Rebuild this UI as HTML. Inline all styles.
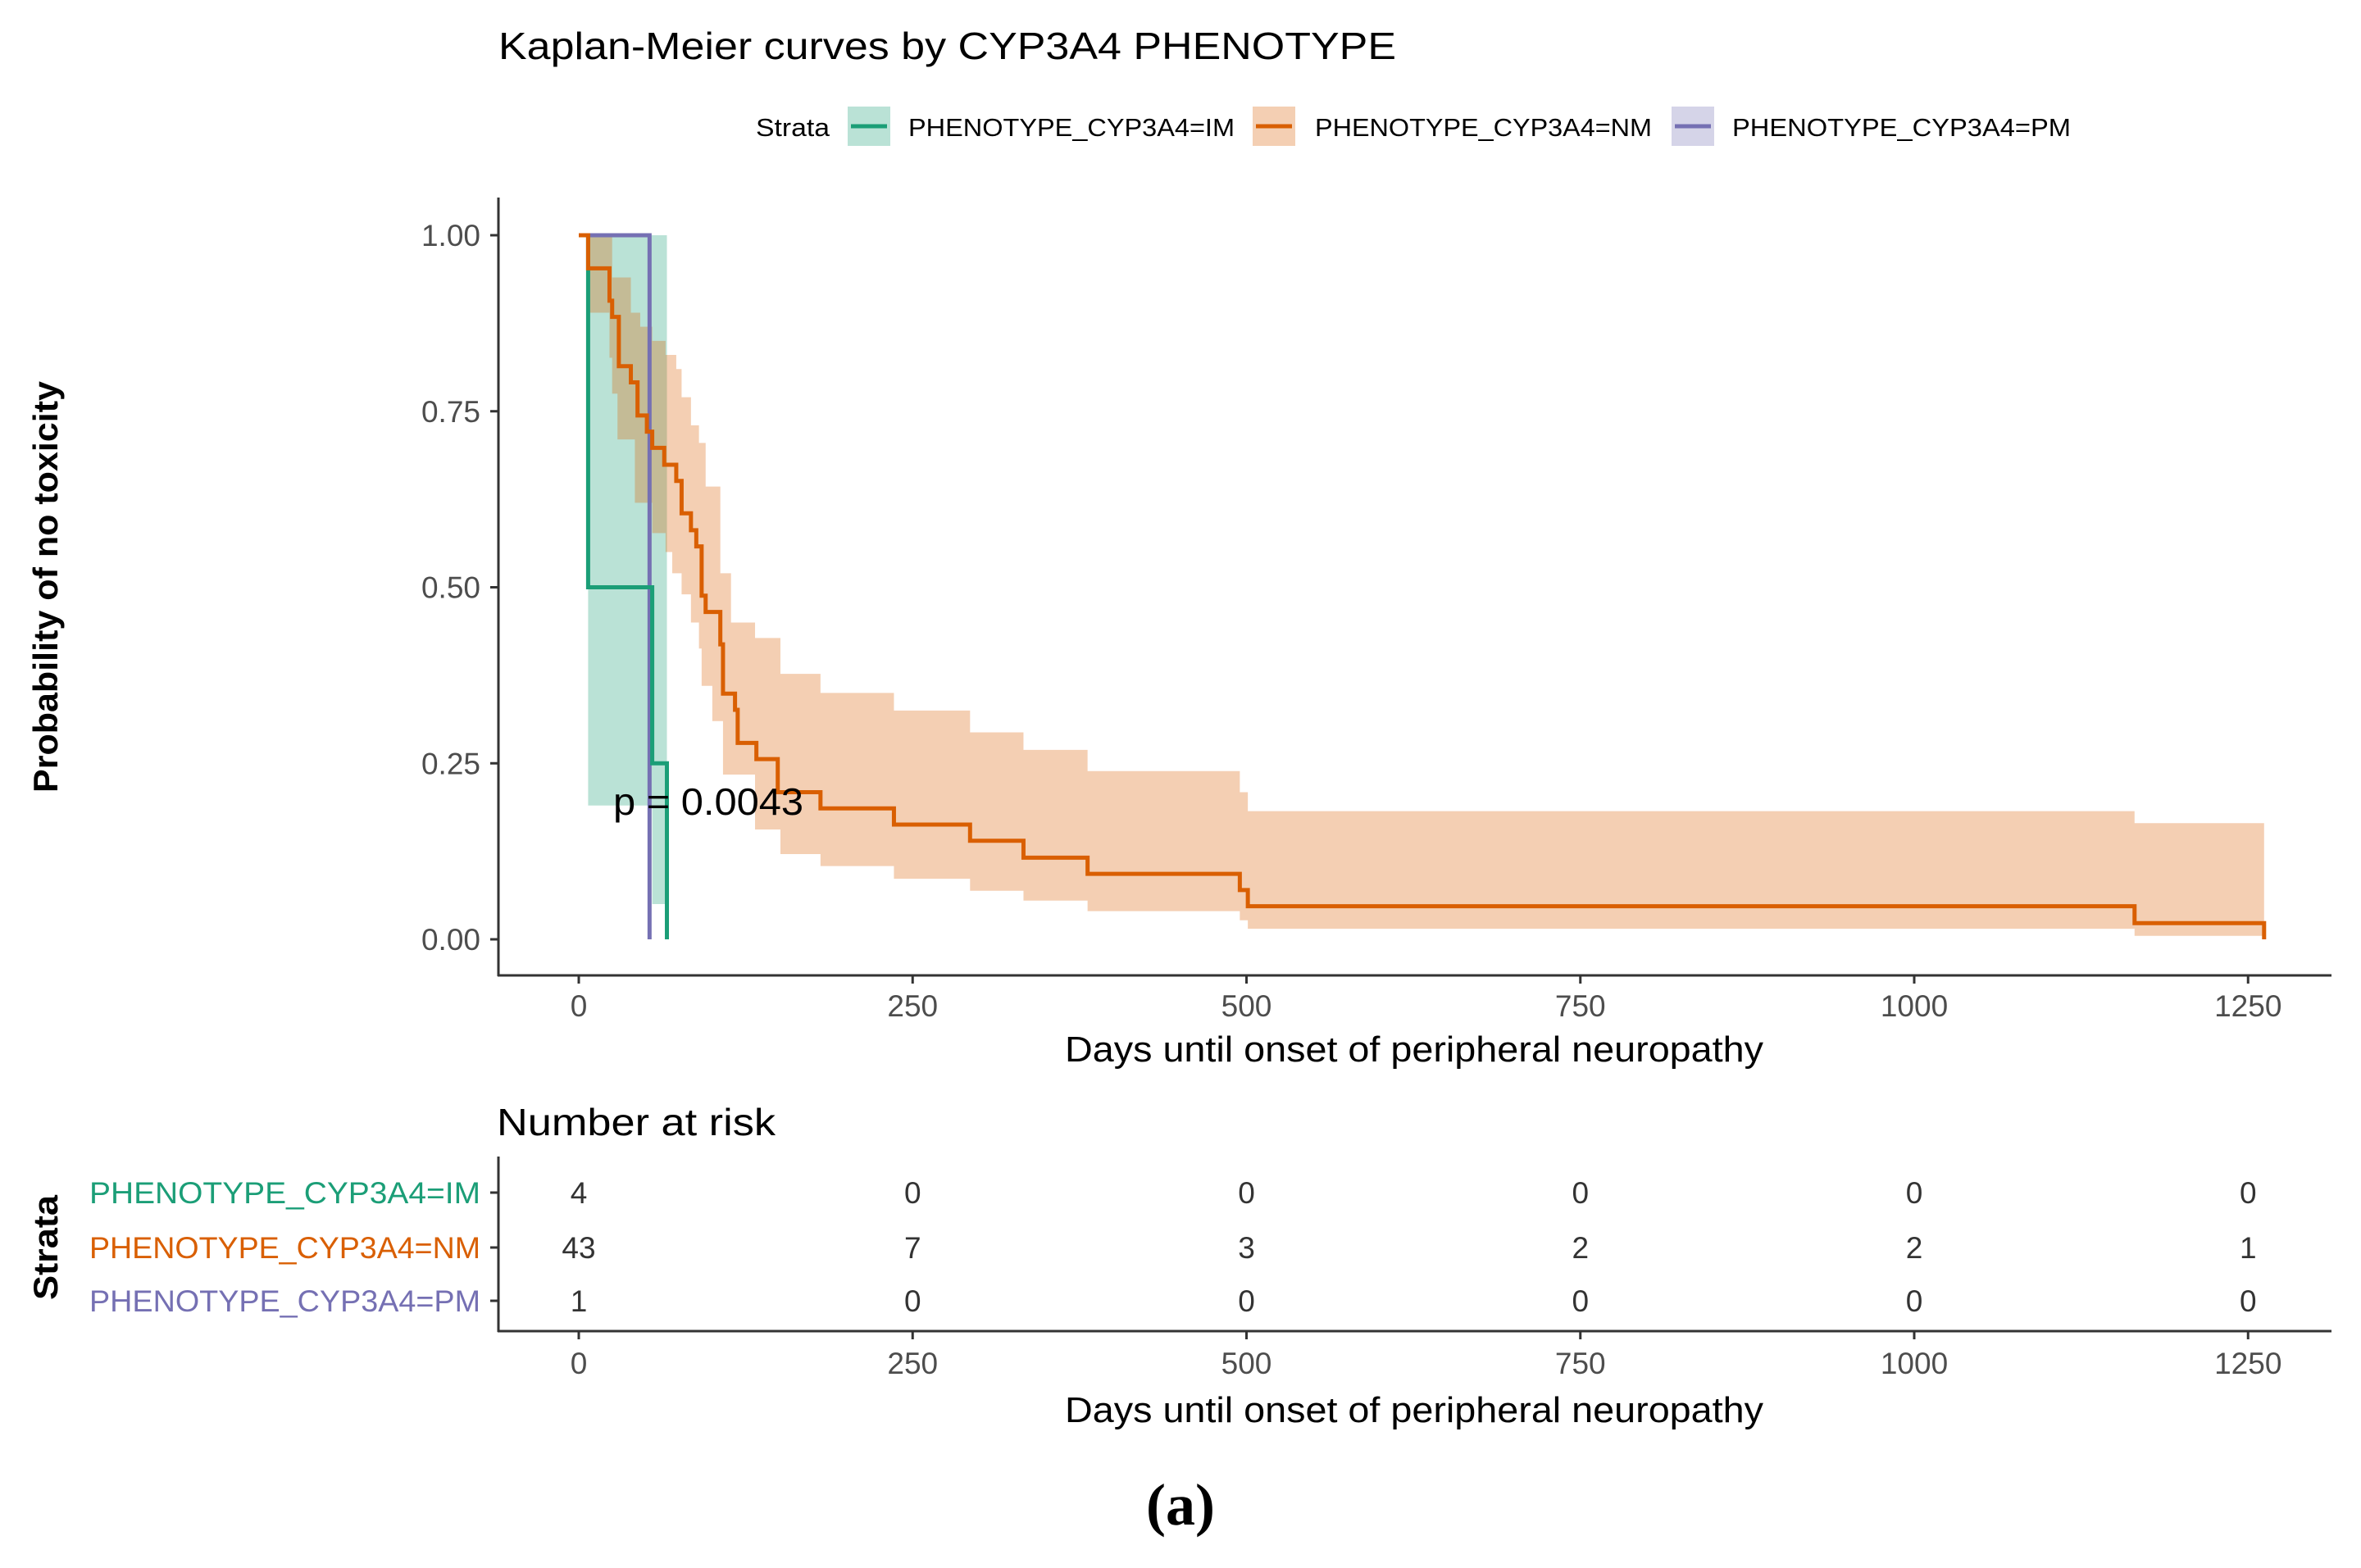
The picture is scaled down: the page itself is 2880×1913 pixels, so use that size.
<!DOCTYPE html>
<html><head><meta charset="utf-8"><style>
html,body{margin:0;padding:0;background:#fff;}
svg{display:block;font-family:"Liberation Sans",sans-serif;}
</style></head><body>
<svg id="c" width="2880" height="1913" viewBox="0 0 2880 1913"></svg>
<script>
// ---- data ----
const nmTimes = [0,7,23,25,30,39,44,51,55,64,73,77,84,88,92,95,106,108,117,119,133,149,181,236,293,333,381,495,501,1165,1262];
const nmSurv  = [1,.953,.907,.884,.814,.791,.744,.721,.698,.674,.651,.605,.581,.558,.488,.465,.419,.349,.326,.279,.256,.209,.186,.163,.140,.116,.093,.070,.047,.023,0];
const nmUpTimes = [0,25,39,46,55,65,73,77,84,90,95,106,114,132,151,181,236,293,333,381,495,501,1165,1262];
const nmUpVals  = [1,.94,.89,.87,.85,.83,.81,.77,.73,.705,.643,.52,.45,.428,.377,.35,.325,.294,.269,.239,.209,.182,.165,.165];
const nmLoTimes = [0,7,23,25,29,42,55,65,70,77,84,90,92,100,108,132,151,181,236,293,333,381,495,501,1165,1262];
const nmLoVals  = [1,.89,.826,.775,.71,.62,.577,.55,.52,.49,.45,.413,.36,.31,.234,.156,.121,.104,.086,.069,.055,.040,.027,.015,.005,.005];
const imTimes = [0,7,55,66];
const imSurv  = [1,.5,.25,0];
const imUpTimes = [7,55,66];
const imUpVals  = [1,1,1];
const imLoTimes = [7,55,66];
const imLoVals  = [.19,.05,.05];
const pmTimes = [0,53];
const pmSurv  = [1,0];
const yTicks = [0,0.25,0.5,0.75,1];
const yTickLabels = ["0.00","0.25","0.50","0.75","1.00"];
const xTicks = [0,250,500,750,1000,1250];
const strataNames = ["PHENOTYPE_CYP3A4=IM","PHENOTYPE_CYP3A4=NM","PHENOTYPE_CYP3A4=PM"];
const riskIM = [4,0,0,0,0,0];
const riskNM = [43,7,3,2,2,1];
const riskPM = [1,0,0,0,0,0];
const pValueText = "p = 0.0043";

// ---- layout ----
const NS="http://www.w3.org/2000/svg";
const svg=document.getElementById('c');
const X0=706, PXD=1.629, Y0=1146, YH=859;
const xs=d=>X0+d*PXD, ys=v=>Y0-v*YH;
const cols={IM:"#1b9e77",NM:"#d95f02",PM:"#7570b3"};
function el(tag,attrs,parent){const e=document.createElementNS(NS,tag);for(const k in attrs)e.setAttribute(k,attrs[k]);(parent||svg).appendChild(e);return e;}
function txt(s,attrs,parent){const e=el('text',attrs,parent);e.textContent=s;return e;}
function stepPath(t,v,endT){let d=`M${xs(t[0])},${ys(v[0])}`;for(let i=1;i<t.length;i++){d+=` H${xs(t[i])} V${ys(v[i])}`;}if(endT!==undefined)d+=` H${xs(endT)}`;return d;}
function band(tu,vu,tl,vl,endT){
  let d=`M${xs(tu[0])},${ys(vu[0])}`;
  for(let i=1;i<tu.length;i++) d+=` H${xs(tu[i])} V${ys(vu[i])}`;
  d+=` H${xs(endT)} V${ys(vl[vl.length-1])}`;
  for(let i=tl.length-1;i>=1;i--) d+=` H${xs(tl[i])} V${ys(vl[i-1])}`;
  d+=` H${xs(tl[0])} Z`;
  return d;
}

// title
let t=txt("Kaplan-Meier curves by CYP3A4 PHENOTYPE",{x:608,y:72,'font-size':46,fill:"#000",textLength:1095,lengthAdjust:"spacingAndGlyphs"});


// legend
const lg=el('g',{});

t=txt("Strata",{x:922,y:166,'font-size':31,fill:"#000",textLength:90,lengthAdjust:"spacingAndGlyphs"},lg);

const legX=[[1034,1108,398],[1528,1604,411],[2039,2113,413]];
["IM","NM","PM"].forEach((k,i)=>{
  const g=el('g',{},lg);
  
  el('rect',{x:legX[i][0],y:130,width:52,height:48,fill:cols[k],'fill-opacity':0.3},g);
  el('line',{x1:legX[i][0]+4,x2:legX[i][0]+48,y1:154,y2:154,stroke:cols[k],'stroke-width':5},g);
  txt(strataNames[i],{x:legX[i][1],y:166,'font-size':31,fill:"#000",textLength:legX[i][2],lengthAdjust:"spacingAndGlyphs"},g);
});

// bands
let p=el('path',{d:band(imUpTimes,imUpVals,imLoTimes,imLoVals,66),fill:cols.IM,'fill-opacity':0.3});

p=el('path',{d:band(nmUpTimes,nmUpVals,nmLoTimes,nmLoVals,1262),fill:cols.NM,'fill-opacity':0.3});


// curves
p=el('path',{d:stepPath(pmTimes,pmSurv),fill:"none",stroke:cols.PM,'stroke-width':5});

p=el('path',{d:stepPath(imTimes,imSurv),fill:"none",stroke:cols.IM,'stroke-width':5});

p=el('path',{d:stepPath(nmTimes,nmSurv),fill:"none",stroke:cols.NM,'stroke-width':5});


// p value
t=txt(pValueText,{x:748,y:994,'font-size':46,fill:"#000",textLength:232,lengthAdjust:"spacingAndGlyphs"});


// axes
const ax=el('g',{stroke:"#333",'stroke-width':3,fill:"none"});

el('line',{x1:608,y1:241,x2:608,y2:1191},ax);
el('line',{x1:607,y1:1190,x2:2844,y2:1190},ax);
yTicks.forEach((v,i)=>{
  el('line',{x1:598,x2:608,y1:ys(v),y2:ys(v)},ax);
  const tt=txt(yTickLabels[i],{x:586,y:ys(v)+13,'font-size':37,fill:"#4d4d4d",'text-anchor':"end",stroke:"none"});
  
});
xTicks.forEach(d=>{
  el('line',{x1:xs(d),x2:xs(d),y1:1190,y2:1200},ax);
  const tt=txt(String(d),{x:xs(d),y:1240,'font-size':37,fill:"#4d4d4d",'text-anchor':"middle",stroke:"none"});
  
});
t=txt("Days until onset of peripheral neuropathy",{x:1725,y:1295,'font-size':44,fill:"#000",'text-anchor':"middle",textLength:852,lengthAdjust:"spacingAndGlyphs"});

t=txt("Probability of no toxicity",{x:0,y:0,'font-size':42,'font-weight':"bold",fill:"#000",'text-anchor':"middle",transform:"translate(70,716) rotate(-90)",textLength:502,lengthAdjust:"spacingAndGlyphs"});


// risk table
t=txt("Number at risk",{x:606,y:1385,'font-size':46,fill:"#000",textLength:340,lengthAdjust:"spacingAndGlyphs"});

const rt=el('g',{stroke:"#333",'stroke-width':3,fill:"none"});

el('line',{x1:608,y1:1411,x2:608,y2:1625},rt);
el('line',{x1:607,y1:1624,x2:2844,y2:1624},rt);
const rowY=[1455,1522,1587];
const rows=[riskIM,riskNM,riskPM];
["IM","NM","PM"].forEach((k,i)=>{
  el('line',{x1:598,x2:608,y1:rowY[i],y2:rowY[i]},rt);
  const lt=txt(strataNames[i],{x:586,y:rowY[i]+13,'font-size':37,fill:cols[k],'text-anchor':"end",stroke:"none",textLength:477,lengthAdjust:"spacingAndGlyphs"});
  
  rows[i].forEach((n,j)=>{
    const nt=txt(String(n),{x:xs(xTicks[j]),y:rowY[i]+13,'font-size':37,fill:"#333",'text-anchor':"middle",stroke:"none"});
    
  });
});
xTicks.forEach(d=>{
  el('line',{x1:xs(d),x2:xs(d),y1:1624,y2:1634},rt);
  const tt=txt(String(d),{x:xs(d),y:1676,'font-size':37,fill:"#4d4d4d",'text-anchor':"middle",stroke:"none"});
  
});
t=txt("Days until onset of peripheral neuropathy",{x:1725,y:1735,'font-size':44,fill:"#000",'text-anchor':"middle",textLength:852,lengthAdjust:"spacingAndGlyphs"});

t=txt("Strata",{x:0,y:0,'font-size':42,'font-weight':"bold",fill:"#000",'text-anchor':"middle",transform:"translate(70,1522) rotate(-90)",textLength:128,lengthAdjust:"spacingAndGlyphs"});


// caption
t=txt("(a)",{x:1440,y:1860,'font-size':72,'font-weight':"bold",fill:"#000",'text-anchor':"middle",'font-family':"Liberation Serif, serif"});

</script>
</body></html>
